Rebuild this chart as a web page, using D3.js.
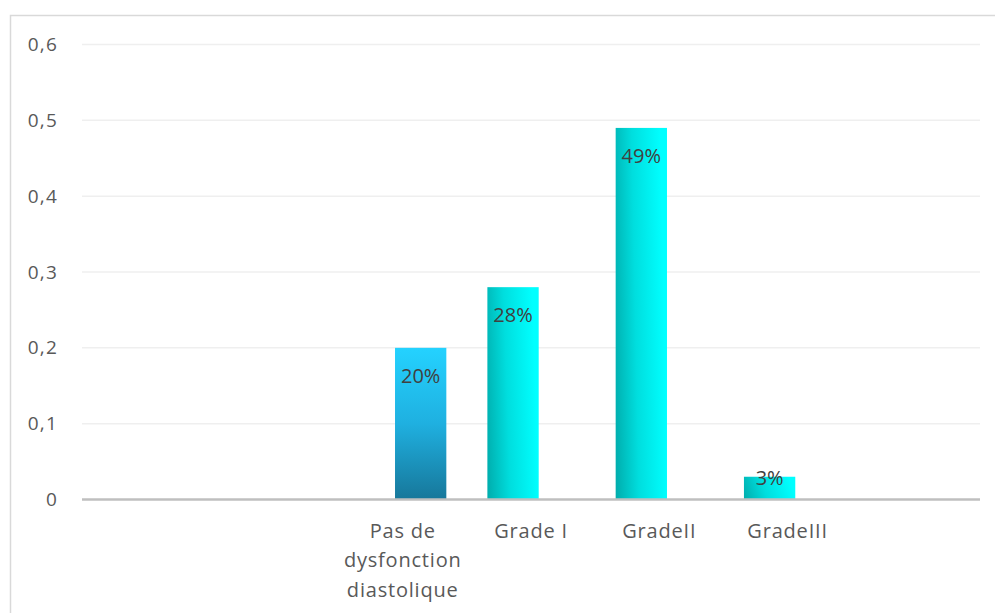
<!DOCTYPE html>
<html>
<head>
<meta charset="utf-8">
<script src="https://cdn.jsdelivr.net/npm/d3@7"></script>
<style>
  html, body { margin: 0; padding: 0; background: #fff; }
  svg { display: block; }
</style>
</head>
<body>
<svg id="chart" width="995" height="613"></svg>
<script>
// Category slots on the x axis (empty slots keep the Excel-style spacing)
const categories = ["c0", "c1", "pas", "g1", "g2", "g3", "c6"];
const categoryLabels = ["", "", "Pas de\ndysfonction\ndiastolique", "Grade I", "GradeII", "GradeIII", ""];
// Series 1: no diastolic dysfunction
const seriesNoDysCats = ["pas"];
const seriesNoDysValues = [0.20];
// Series 2: dysfunction grades
const seriesGradeCats = ["g1", "g2", "g3"];
const seriesGradeValues = [0.28, 0.49, 0.03];
const yTicks = [0, 0.1, 0.2, 0.3, 0.4, 0.5, 0.6];

const svg = d3.select("#chart");
const W = 995, H = 613;
const margin = { top: 44.5, right: 15, bottom: 113.5, left: 82 };
const plotW = W - margin.left - margin.right;
const plotH = H - margin.top - margin.bottom;

// Outer chart frame
svg.append("rect")
  .attr("x", 10.5).attr("y", 15.5)
  .attr("width", W + 20).attr("height", H + 20)
  .attr("fill", "none").attr("stroke", "#d9d9d9").attr("stroke-width", 1.5);

const defs = svg.append("defs");
const gA = defs.append("linearGradient").attr("id", "gradNoDys")
  .attr("x1", 0).attr("y1", 0).attr("x2", 0).attr("y2", 1);
gA.append("stop").attr("offset", "0%").attr("stop-color", "#24d2ff");
gA.append("stop").attr("offset", "50%").attr("stop-color", "#1fb0e0");
gA.append("stop").attr("offset", "100%").attr("stop-color", "#17779a");

const gB = defs.append("linearGradient").attr("id", "gradGrade")
  .attr("x1", 0).attr("y1", 1).attr("x2", 1).attr("y2", 0.85);
gB.append("stop").attr("offset", "0%").attr("stop-color", "#00acac");
gB.append("stop").attr("offset", "45%").attr("stop-color", "#00dede");
gB.append("stop").attr("offset", "100%").attr("stop-color", "#00ffff");

const g = svg.append("g").attr("transform", `translate(${margin.left},${margin.top})`);

const x = d3.scaleBand().domain(categories).range([0, plotW]);
const y = d3.scaleLinear().domain([0, 0.6]).range([plotH, 0]);
const bw = x.bandwidth();
const barW = bw * 0.4;
// Overlapping cluster: grades sit left of slot centre, "no dysfunction" right
const offset = d3.scalePoint().domain(["grade", "nodys"]).range([-bw * 0.14, bw * 0.14]);

const fmt = v => String(v).replace(".", ",");

// Gridlines
g.append("g").selectAll("line").data(yTicks.filter(t => t > 0)).join("line")
  .attr("x1", 0).attr("x2", plotW)
  .attr("y1", d => y(d)).attr("y2", d => y(d))
  .attr("stroke", "#efefef").attr("stroke-width", 1.5);

// Y axis labels
const yAxis = g.append("g").attr("transform", "translate(-24,0)")
  .call(d3.axisLeft(y).tickValues(yTicks).tickFormat(fmt).tickSize(0).tickPadding(0));
yAxis.select(".domain").remove();
yAxis.selectAll("text")
  .attr("font-family", "'Open Sans', sans-serif").attr("font-size", 19)
  .attr("letter-spacing", "1.2px")
  .attr("fill", "#595959");

function drawSeries(cats, vals, key, fill) {
  const data = cats.map((c, i) => ({ c, v: vals[i] }));
  g.append("g").selectAll("rect").data(data).join("rect")
    .attr("x", d => x(d.c) + bw / 2 + offset(key) - barW / 2)
    .attr("y", d => y(d.v))
    .attr("width", barW)
    .attr("height", d => y(0) - y(d.v))
    .attr("fill", fill);
  g.append("g").selectAll("text").data(data).join("text")
    .attr("x", d => x(d.c) + bw / 2 + offset(key))
    .attr("y", d => Math.min(y(d.v) + 35, y(0) - 15))
    .attr("text-anchor", "middle")
    .attr("font-family", "'Open Sans', sans-serif").attr("font-size", 20)
    .attr("fill", "#404040")
    .text(d => Math.round(d.v * 100) + "%");
}
drawSeries(seriesNoDysCats, seriesNoDysValues, "nodys", "url(#gradNoDys)");
drawSeries(seriesGradeCats, seriesGradeValues, "grade", "url(#gradGrade)");

// Baseline
g.append("line").attr("x1", 0).attr("x2", plotW)
  .attr("y1", y(0)).attr("y2", y(0))
  .attr("stroke", "#bfbfbf").attr("stroke-width", 2.5);

// Category labels
const catG = g.append("g");
categories.forEach((c, i) => {
  const lines = categoryLabels[i].split("\n").filter(s => s);
  const t = catG.append("text")
    .attr("x", x(c) + bw / 2)
    .attr("y", y(0) + 38)
    .attr("text-anchor", "middle")
    .attr("font-family", "'Open Sans', sans-serif").attr("font-size", 20)
    .attr("letter-spacing", "0.8px")
    .attr("fill", "#595959");
  lines.forEach((s, j) => {
    t.append("tspan").attr("x", x(c) + bw / 2).attr("dy", j === 0 ? 0 : 29.5).text(s);
  });
});
</script>
</body>
</html>
